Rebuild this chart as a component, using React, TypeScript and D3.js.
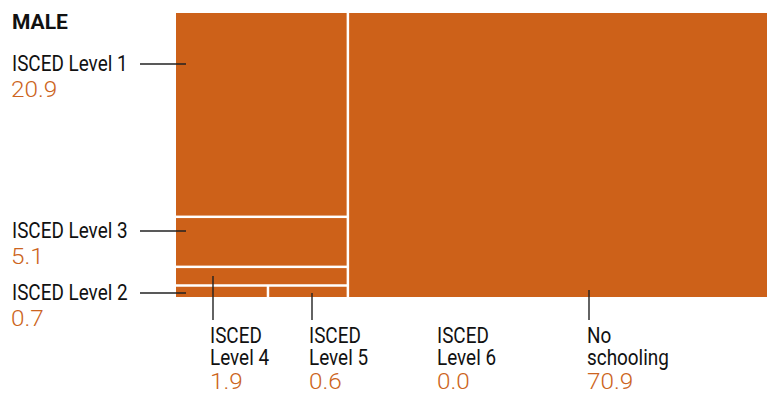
import React from "react";
import * as d3 from "d3";

const categories = ["No schooling", "ISCED Level 1", "ISCED Level 3", "ISCED Level 4", "ISCED Level 2", "ISCED Level 5", "ISCED Level 6"];
const values = [70.9, 20.9, 5.1, 1.9, 0.7, 0.6, 0.0];
const valueLabels = ["70.9", "20.9", "5.1", "1.9", "0.7", "0.6", "0.0"];
const title = "MALE";

const W = 767, H = 394;
const ORANGE = "#cd6119";
const NUM = "#cc6420";
const FONT = "Roboto, 'Noto Sans', sans-serif";

type Node = { name: string; value?: number; children?: Node[] };

const LBL_SIZE = 22;
const LBL_SX = 0.86;
const NUM_SIZE = 22.5;
const NUM_SX = 1.08;

function Label({ x, y, children }: { x: number; y: number; children: React.ReactNode }) {
  return (
    <text transform={`translate(${x},${y}) scale(${LBL_SX},1)`} fontSize={LBL_SIZE} fill="#111">{children}</text>
  );
}
function Num({ x, y, children }: { x: number; y: number; children: React.ReactNode }) {
  return (
    <text transform={`translate(${x},${y}) scale(${NUM_SX},1)`} fontSize={NUM_SIZE} fontWeight={300} fill={NUM}>{children}</text>
  );
}

export default function App() {
  const v = (n: string) => values[categories.indexOf(n)];
  const data: Node = {
    name: "root",
    children: [
      {
        name: "left",
        children: [
          { name: "ISCED Level 1", value: v("ISCED Level 1") },
          { name: "ISCED Level 3", value: v("ISCED Level 3") },
          { name: "ISCED Level 4", value: v("ISCED Level 4") },
          {
            name: "bottom",
            children: [
              { name: "ISCED Level 2", value: v("ISCED Level 2") },
              { name: "ISCED Level 5", value: v("ISCED Level 5") },
              { name: "ISCED Level 6", value: v("ISCED Level 6") },
            ],
          },
        ],
      },
      { name: "No schooling", value: v("No schooling") },
    ],
  };
  const root = d3.hierarchy<Node>(data).sum((d) => d.value || 0);
  d3.treemap<Node>()
    .tile(d3.treemapSliceDice)
    .size([767 - 176, 297 - 13])
    .paddingInner(2.5)
    .round(false)(root);
  const leaves = root.leaves() as d3.HierarchyRectangularNode<Node>[];
  const ox = 176, oy = 13;

  const leftLabels = ["ISCED Level 1", "ISCED Level 3", "ISCED Level 2"];
  const leftY: Record<string, number> = { "ISCED Level 1": 71, "ISCED Level 3": 238, "ISCED Level 2": 300 };
  const bottomLabels = ["ISCED Level 4", "ISCED Level 5", "ISCED Level 6", "No schooling"];
  const bottomX: Record<string, number> = { "ISCED Level 4": 210, "ISCED Level 5": 309, "ISCED Level 6": 437, "No schooling": 587 };
  const bottomLines: Record<string, [number, number, number] | null> = {
    "ISCED Level 4": [213, 276, 320],
    "ISCED Level 5": [312, 293, 320],
    "ISCED Level 6": null,
    "No schooling": [589, 290, 320],
  };
  const splitName = (n: string) => (n === "No schooling" ? ["No", "schooling"] : ["ISCED", n.replace("ISCED ", "")]);

  return (
    <svg width={W} height={H} style={{ display: "block", position: "absolute", left: 0, top: 0 }} fontFamily={FONT}>
      <rect width={W} height={H} fill="#fff" />
      <text x={12} y={29} fontSize={21} fontWeight={700} fill="#111">{title}</text>
      <g transform={`translate(${ox},${oy})`}>
        {leaves.filter((l) => l.x1 - l.x0 > 0.5).map((l) => (
          <rect key={l.data.name} x={l.x0} y={l.y0} width={l.x1 - l.x0} height={l.y1 - l.y0} fill={ORANGE} />
        ))}
      </g>
      {leftLabels.map((n) => {
        const y = leftY[n];
        const i = categories.indexOf(n);
        return (
          <g key={n}>
            <Label x={12} y={y}>{n}</Label>
            <Num x={11} y={y + 26}>{valueLabels[i]}</Num>
            <line x1={140} x2={186} y1={y - 7} y2={y - 7} stroke="#222" strokeWidth={1.4} />
          </g>
        );
      })}
      {bottomLabels.map((n) => {
        const x = bottomX[n];
        const i = categories.indexOf(n);
        const ln = bottomLines[n];
        const parts = splitName(n);
        return (
          <g key={n}>
            {ln && <line x1={ln[0]} x2={ln[0]} y1={ln[1]} y2={ln[2]} stroke="#222" strokeWidth={1.4} />}
            <Label x={x} y={343}>{parts[0]}</Label>
            <Label x={x} y={365}>{parts[1]}</Label>
            <Num x={x} y={389}>{valueLabels[i]}</Num>
          </g>
        );
      })}
    </svg>
  );
}
